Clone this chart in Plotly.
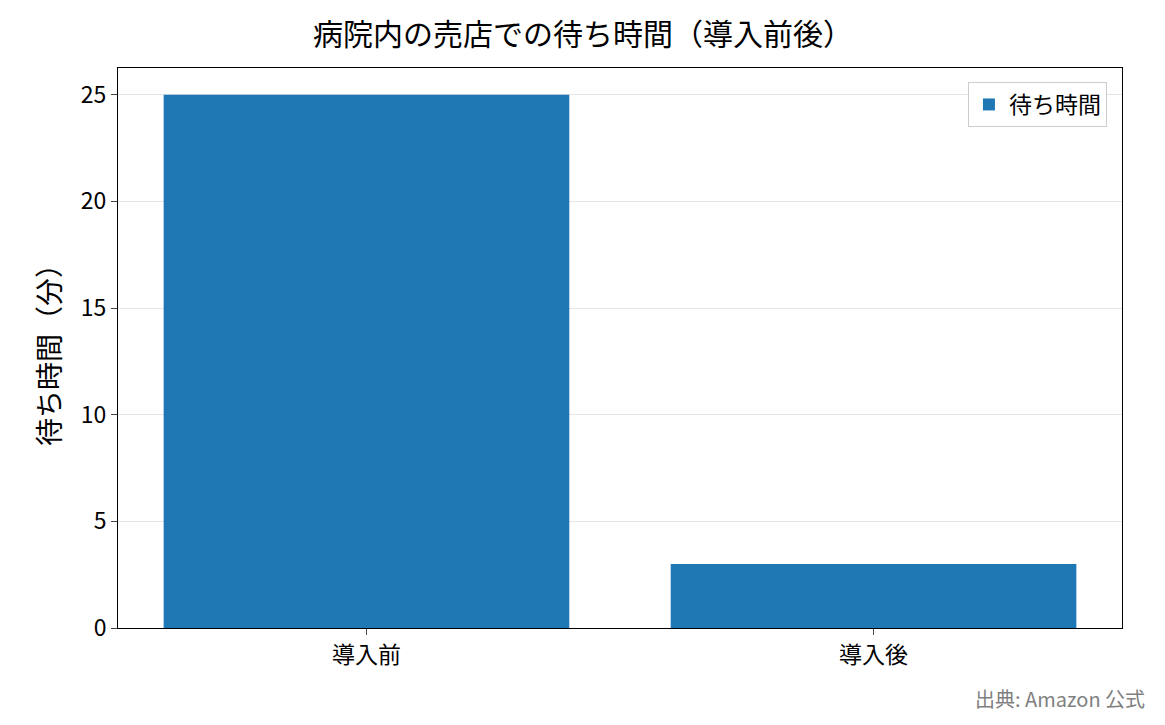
import plotly.graph_objects as go

categories = ["導入前", "導入後"]
values = [25, 3]
series_name = "待ち時間"

font = "Noto Sans CJK JP"
fig = go.Figure(go.Bar(x=[0, 1], y=values, width=0.8, name=series_name,
                       marker=dict(color="#1f77b4", line=dict(width=0)),
                       showlegend=True))
fig.update_layout(
    width=1150, height=710, plot_bgcolor="white", paper_bgcolor="white",
    font=dict(family=font, size=23, color="black"),
    title=dict(text="病院内の売店での待ち時間（導入前後）", x=0.5, xanchor="center",
               y=0.963, yanchor="middle", font=dict(size=30)),
    margin=dict(l=110, r=36, t=60, b=90),
    xaxis=dict(range=[-0.49, 1.49], tickvals=[0, 1], ticktext=categories,
               showline=True, linecolor="black", mirror=True, ticks="outside",
               ticklen=6, showgrid=False, zeroline=False),
    yaxis=dict(range=[0, 26.25], tickvals=[0, 5, 10, 15, 20, 25],
               title=dict(text="待ち時間（分）", standoff=12),
               showline=True, linecolor="black", mirror=True, ticks="outside",
               ticklen=6, showgrid=True, gridcolor="rgba(0,0,0,0.1)", zeroline=False),
    legend=dict(x=0.985, y=0.975, xanchor="right", yanchor="top",
                bordercolor="#cccccc", borderwidth=1, font=dict(size=23)),
    annotations=[dict(text="出典: Amazon 公式", xref="paper", yref="paper",
                      x=1.025, y=-0.125, xanchor="right", yanchor="middle",
                      showarrow=False, font=dict(size=20, color="gray"))],
)
fig.write_html("out.html")
